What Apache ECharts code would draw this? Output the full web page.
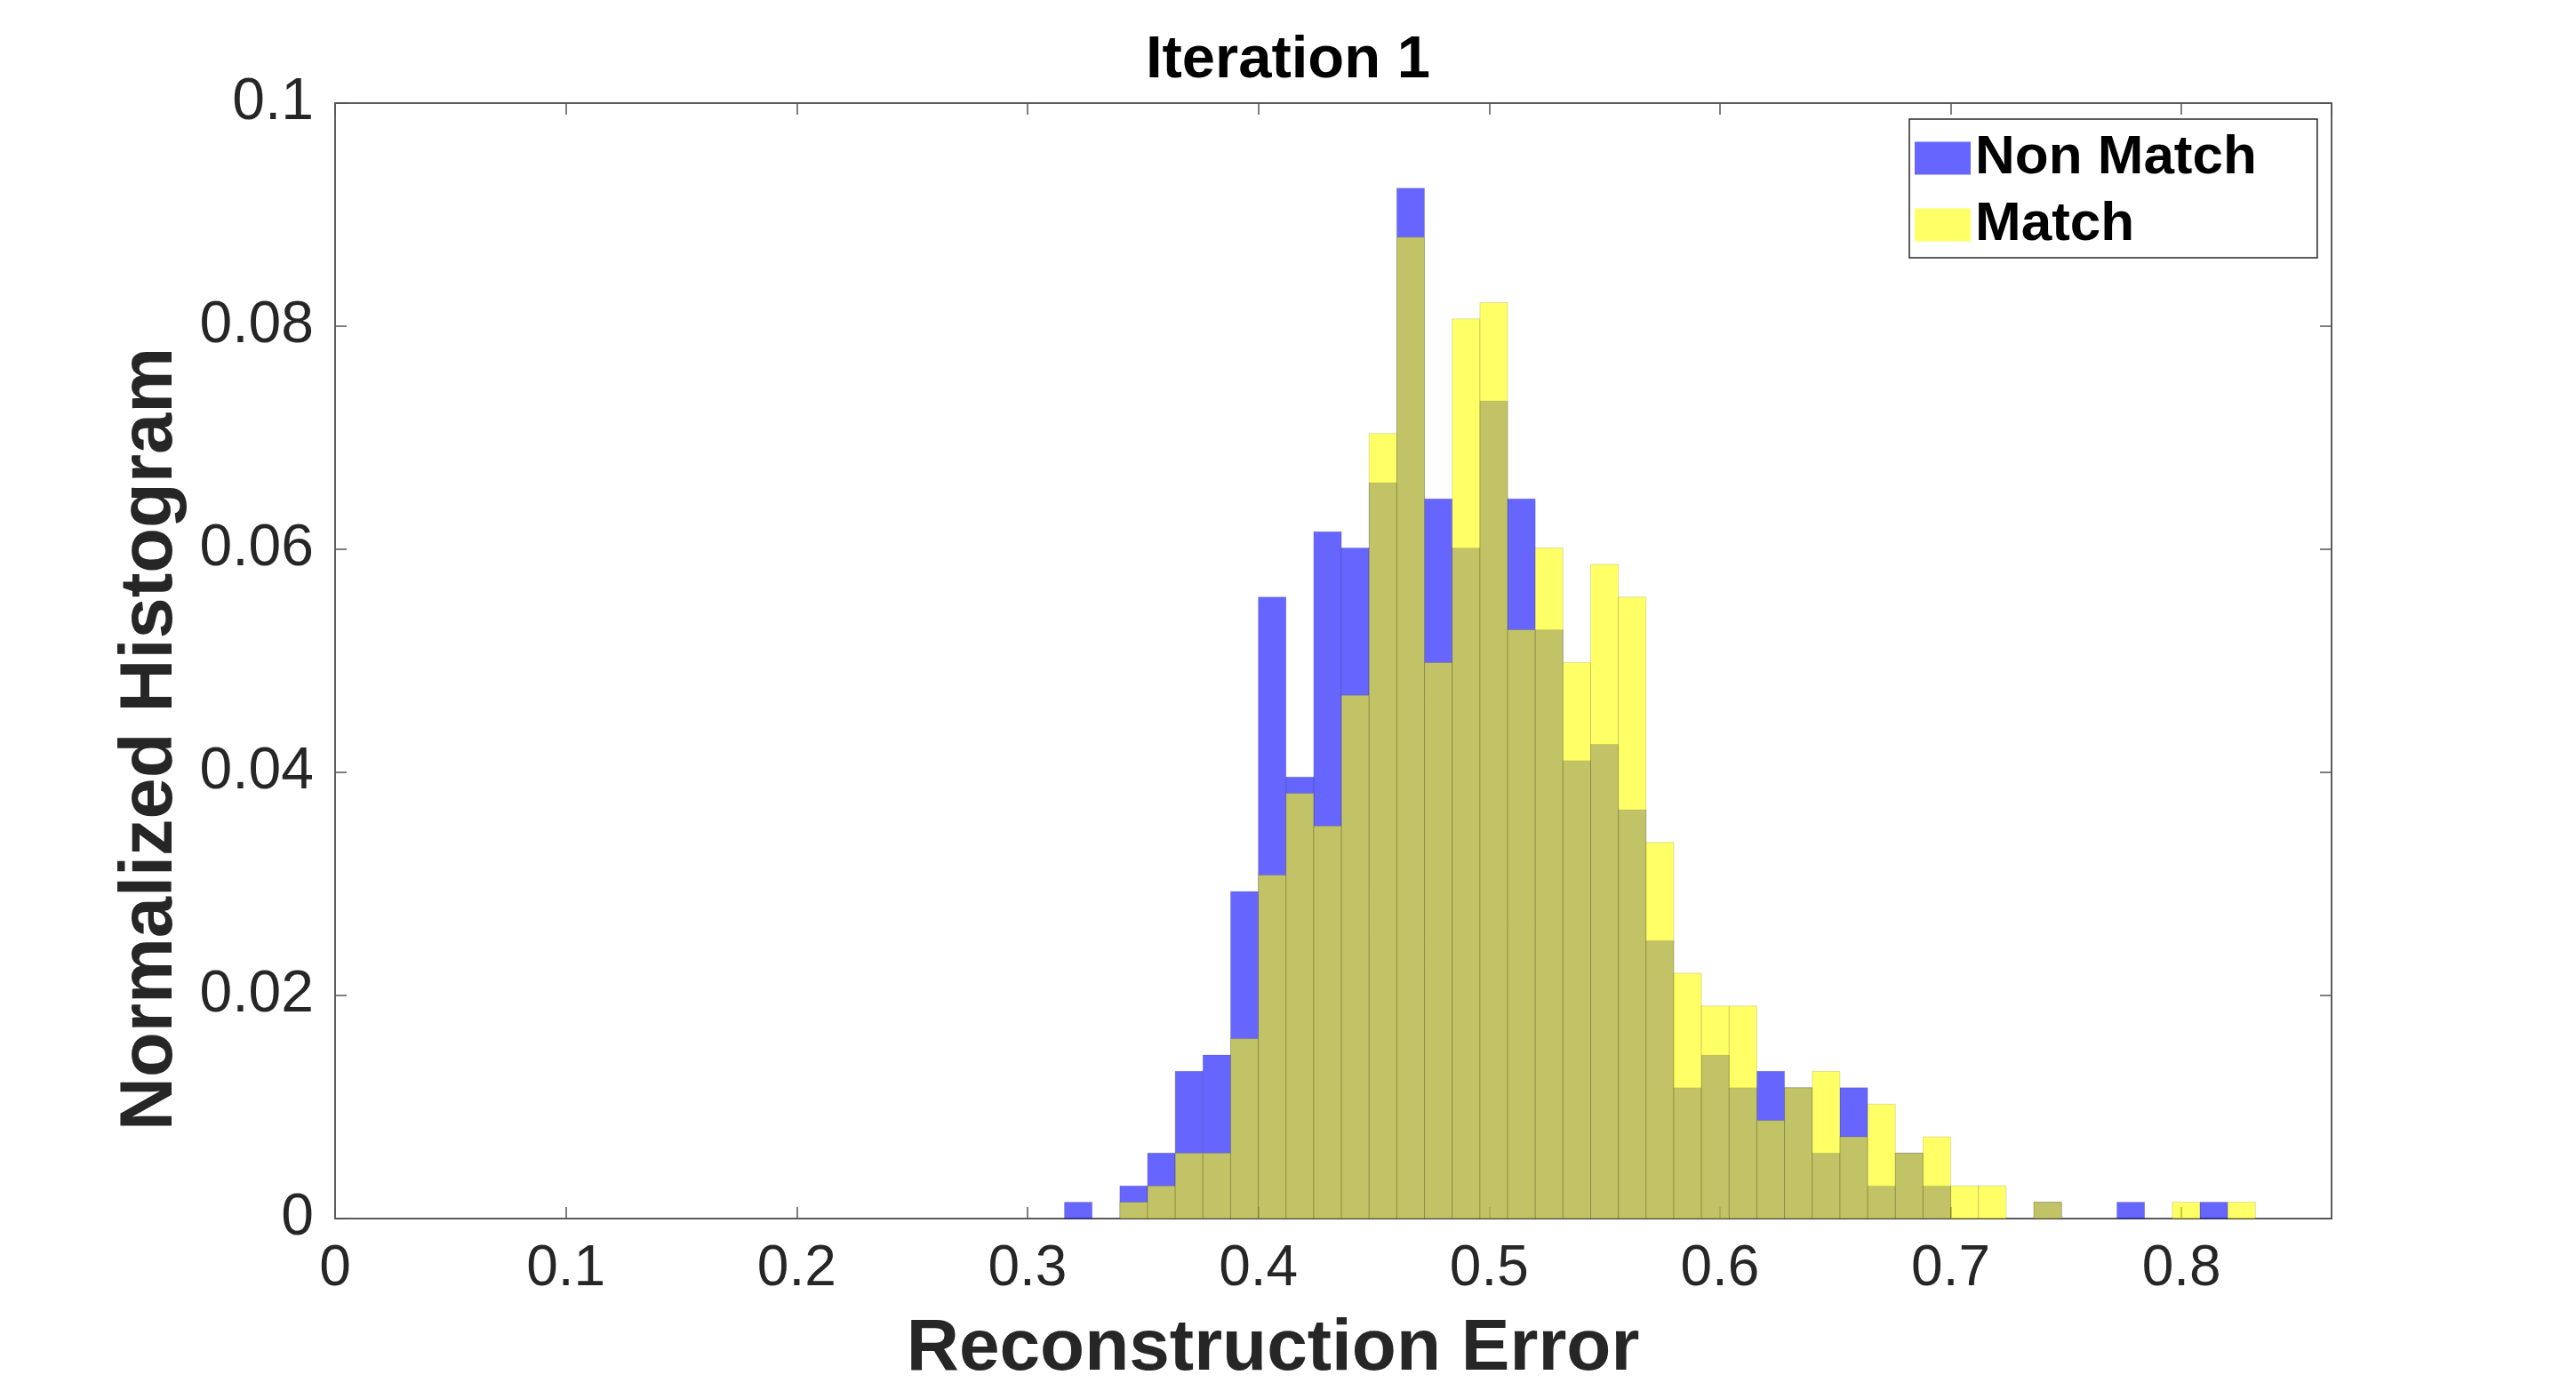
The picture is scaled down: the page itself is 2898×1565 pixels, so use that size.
<!DOCTYPE html>
<html>
<head>
<meta charset="utf-8">
<title>Iteration 1</title>
<script src="https://cdn.jsdelivr.net/npm/echarts@6/dist/echarts.min.js"></script>
<style>
    html, body { margin: 0; padding: 0; background: #fff; }
    #chart { width: 2898px; height: 1565px; }
</style>
</head>
<body>
<div id="chart"></div>
<script>
// left edge of every histogram bin (bin width 0.012)
var binLeft = [0.316, 0.328, 0.340, 0.352, 0.364, 0.376, 0.388, 0.400, 0.412, 0.424,
    0.436, 0.448, 0.460, 0.472, 0.484, 0.496, 0.508, 0.520, 0.532, 0.544,
    0.556, 0.568, 0.580, 0.592, 0.604, 0.616, 0.628, 0.640, 0.652, 0.664,
    0.676, 0.688, 0.700, 0.712, 0.724, 0.736, 0.748, 0.760, 0.772, 0.784,
    0.796, 0.808, 0.820];
var binWidth = 0.012;

// normalized histogram heights
var nonMatch = [0.00147, 0, 0.00293, 0.00587, 0.01320, 0.01466, 0.02933, 0.05572, 0.03959, 0.06158,
    0.06012, 0.06598, 0.09238, 0.06452, 0.06012, 0.07331, 0.06452, 0.05279, 0.04106, 0.04252,
    0.03666, 0.02493, 0.01173, 0.01466, 0.01173, 0.01320, 0.01173, 0.00587, 0.01173, 0.00293,
    0.00587, 0.00293, 0, 0, 0, 0.00147, 0, 0, 0.00147, 0,
    0, 0.00147, 0];
var match = [0, 0, 0.00147, 0.00293, 0.00587, 0.00587, 0.01613, 0.03079, 0.03812, 0.03519,
    0.04692, 0.07038, 0.08798, 0.04985, 0.08065, 0.08211, 0.05279, 0.06012, 0.04985, 0.05865,
    0.05572, 0.03372, 0.02199, 0.01906, 0.01906, 0.00880, 0.01173, 0.01320, 0.00733, 0.01026,
    0.00587, 0.00733, 0.00293, 0.00293, 0, 0.00147, 0, 0, 0, 0,
    0.00147, 0, 0.00147];

var xTicks = { min: 0, max: 0.865, interval: 0.1 };
var yTicks = { min: 0, max: 0.1, interval: 0.02 };

var font = 'Liberation Sans, Arial, sans-serif';
var axisColor = '#262626';

function histData(values) {
    var out = [];
    for (var i = 0; i < values.length; i++) {
        out.push([binLeft[i], binLeft[i] + binWidth, values[i]]);
    }
    return out;
}

function barRenderer(fill) {
    return function (params, api) {
        var h = api.value(2);
        if (!h) return null;
        var p0 = api.coord([api.value(0), h]);
        var p1 = api.coord([api.value(1), 0]);
        return {
            type: 'rect',
            shape: { x: p0[0], y: p0[1], width: p1[0] - p0[0], height: p1[1] - p0[1] },
            style: { fill: fill, stroke: 'rgba(0,0,0,0.13)', lineWidth: 1 }
        };
    };
}

function xAxisOpt(pos, showLabel) {
    return {
        type: 'value', position: pos,
        min: xTicks.min, max: xTicks.max, interval: xTicks.interval,
        axisLine: { show: true, onZero: false, lineStyle: { color: axisColor, width: 1.5 } },
        axisTick: { show: true, inside: true, length: 13, lineStyle: { color: '#555', width: 1.5 } },
        axisLabel: { show: showLabel, showMaxLabel: false, fontSize: 64, fontFamily: font, color: axisColor, margin: 25 },
        splitLine: { show: false }
    };
}

function yAxisOpt(pos, showLabel) {
    return {
        type: 'value', position: pos,
        min: yTicks.min, max: yTicks.max, interval: yTicks.interval,
        axisLine: { show: true, onZero: false, lineStyle: { color: axisColor, width: 1.5 } },
        axisTick: { show: true, inside: true, length: 13, lineStyle: { color: '#555', width: 1.5 } },
        axisLabel: { show: showLabel, fontSize: 66, fontFamily: font, color: axisColor, margin: 24, padding: [16, 0, 0, 0] },
        splitLine: { show: false }
    };
}

var chart = echarts.init(document.getElementById('chart'));

var xBottom = xAxisOpt('bottom', true);
xBottom.name = 'Reconstruction Error';
xBottom.nameLocation = 'middle';
xBottom.nameGap = 106;
xBottom.nameTextStyle = { fontSize: 82, fontWeight: 'bold', fontFamily: font, color: axisColor, lineHeight: 82, padding: [0, 136, 0, 0] };

var yLeft = yAxisOpt('left', true);
yLeft.name = 'Normalized Histogram';
yLeft.nameLocation = 'middle';
yLeft.nameGap = 165;
yLeft.nameTextStyle = { fontSize: 83, fontWeight: 'bold', fontFamily: font, color: axisColor, lineHeight: 83, padding: [0, 176, 0, 0] };

var option = {
    animation: false,
    backgroundColor: '#fff',
    title: {
        text: 'Iteration 1',
        left: 'center',
        top: 35,
        padding: 0,
        textStyle: { fontSize: 67, fontWeight: 'bold', fontFamily: font, color: '#000', lineHeight: 67 }
    },
    legend: {
        orient: 'vertical',
        left: 2148,
        top: 134,
        padding: [13, 68, 6, 6],
        icon: 'rect',
        itemWidth: 63,
        itemHeight: 37,
        itemGap: 13,
        borderColor: axisColor,
        borderWidth: 1.5,
        backgroundColor: '#fff',
        textStyle: { fontSize: 62, fontWeight: 'bold', fontFamily: font, color: '#000', lineHeight: 62 },
        data: [
            { name: 'Non Match', itemStyle: { color: '#6666ff', opacity: 1 } },
            { name: 'Match', itemStyle: { color: '#ffff66', opacity: 1 } }
        ]
    },
    grid: { left: 377, right: 275, top: 116, bottom: 194, containLabel: false, outerBoundsMode: 'none' },
    xAxis: [xBottom, xAxisOpt('top', false)],
    yAxis: [yLeft, yAxisOpt('right', false)],
    series: [
        {
            name: 'Non Match',
            type: 'custom',
            xAxisIndex: 0, yAxisIndex: 0,
            itemStyle: { color: '#6666ff' },
            encode: { x: [0, 1], y: 2 },
            renderItem: barRenderer('rgba(0,0,255,0.6)'),
            data: histData(nonMatch)
        },
        {
            name: 'Match',
            type: 'custom',
            xAxisIndex: 0, yAxisIndex: 0,
            itemStyle: { color: '#ffff66' },
            encode: { x: [0, 1], y: 2 },
            renderItem: barRenderer('rgba(255,255,0,0.6)'),
            data: histData(match)
        }
    ]
};

chart.setOption(option);
</script>
</body>
</html>
